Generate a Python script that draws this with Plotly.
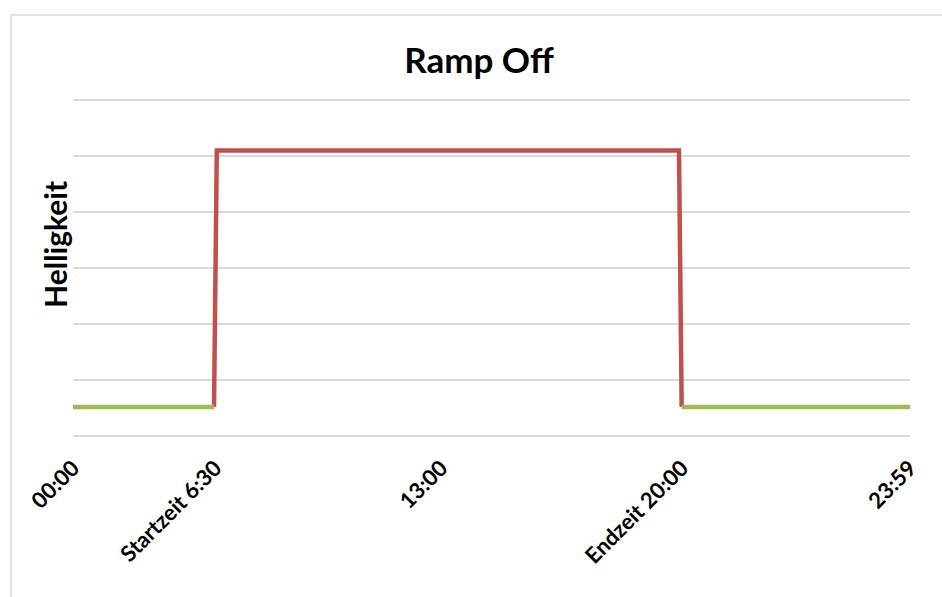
import plotly.graph_objects as go

# ---- data (x as fraction of the day axis as drawn, y = brightness units) ----
tick_pos = [0.0, 0.1700, 0.4400, 0.7275, 1.0]
tick_text = ["00:00", "Startzeit 6:30", "13:00", "Endzeit 20:00", "23:59"]

off_before_x = [0.0, 0.1685]
off_before_y = [0.52, 0.52]

on_x = [0.1685, 0.1718, 0.7240, 0.7272]
on_y = [0.52, 5.10, 5.10, 0.52]

off_after_x = [0.7272, 1.0]
off_after_y = [0.52, 0.52]

RED = "#c0504d"
GREEN = "#9bbb59"
GRID = "#d9d9d9"
FONT = "Lato"

fig = go.Figure()
fig.add_trace(go.Scatter(x=on_x, y=on_y, mode="lines",
                         line=dict(color=RED, width=4.5), showlegend=False))
fig.add_trace(go.Scatter(x=off_before_x, y=off_before_y, mode="lines",
                         line=dict(color=GREEN, width=4.5), showlegend=False))
fig.add_trace(go.Scatter(x=off_after_x, y=off_after_y, mode="lines",
                         line=dict(color=GREEN, width=4.5), showlegend=False))

W, H = 942, 597
L, R, T, B = 73, 32, 95, 161
pw, ph = W - L - R, H - T - B
unit_px = 56.0
y_top = ph / unit_px

def px_x(p):
    return (p - L) / pw

def px_y(p):
    return (H - B - p) / ph

fig.update_layout(
    width=W, height=H,
    margin=dict(l=L, r=R, t=T, b=B, pad=0),
    paper_bgcolor="white", plot_bgcolor="white",
    title=dict(text="Ramp Off", xref="container", yref="container",
               x=479 / W, y=1 - 61 / H, xanchor="center", yanchor="middle",
               font=dict(family=FONT, size=35, color="black", weight="bold")),
    xaxis=dict(range=[0, 1], tickvals=tick_pos, ticktext=tick_text,
               tickangle=-45, showgrid=False, zeroline=False, showline=False,
               ticks="", ticklabelstandoff=14,
               tickfont=dict(family=FONT, size=22, color="black", weight="bold")),
    yaxis=dict(range=[0, y_top], tick0=0, dtick=1, showgrid=True, gridcolor=GRID, gridwidth=1.5,
               zeroline=True, zerolinecolor=GRID, zerolinewidth=1.5,
               showticklabels=False, ticks="", showline=False),
    annotations=[dict(text="Helligkeit", xref="paper", yref="paper",
                      x=px_x(55), y=px_y(245), xanchor="center", yanchor="middle",
                      textangle=-90, showarrow=False,
                      font=dict(family=FONT, size=30, color="black", weight="bold"))],
    shapes=[dict(type="rect", xref="paper", yref="paper",
                 x0=px_x(11), x1=px_x(950), y0=px_y(610), y1=px_y(15),
                 line=dict(color=GRID, width=1.5), layer="below")],
)

fig.write_html("out.html", config={"displayModeBar": False},
               post_script="document.body.style.margin='0';")
